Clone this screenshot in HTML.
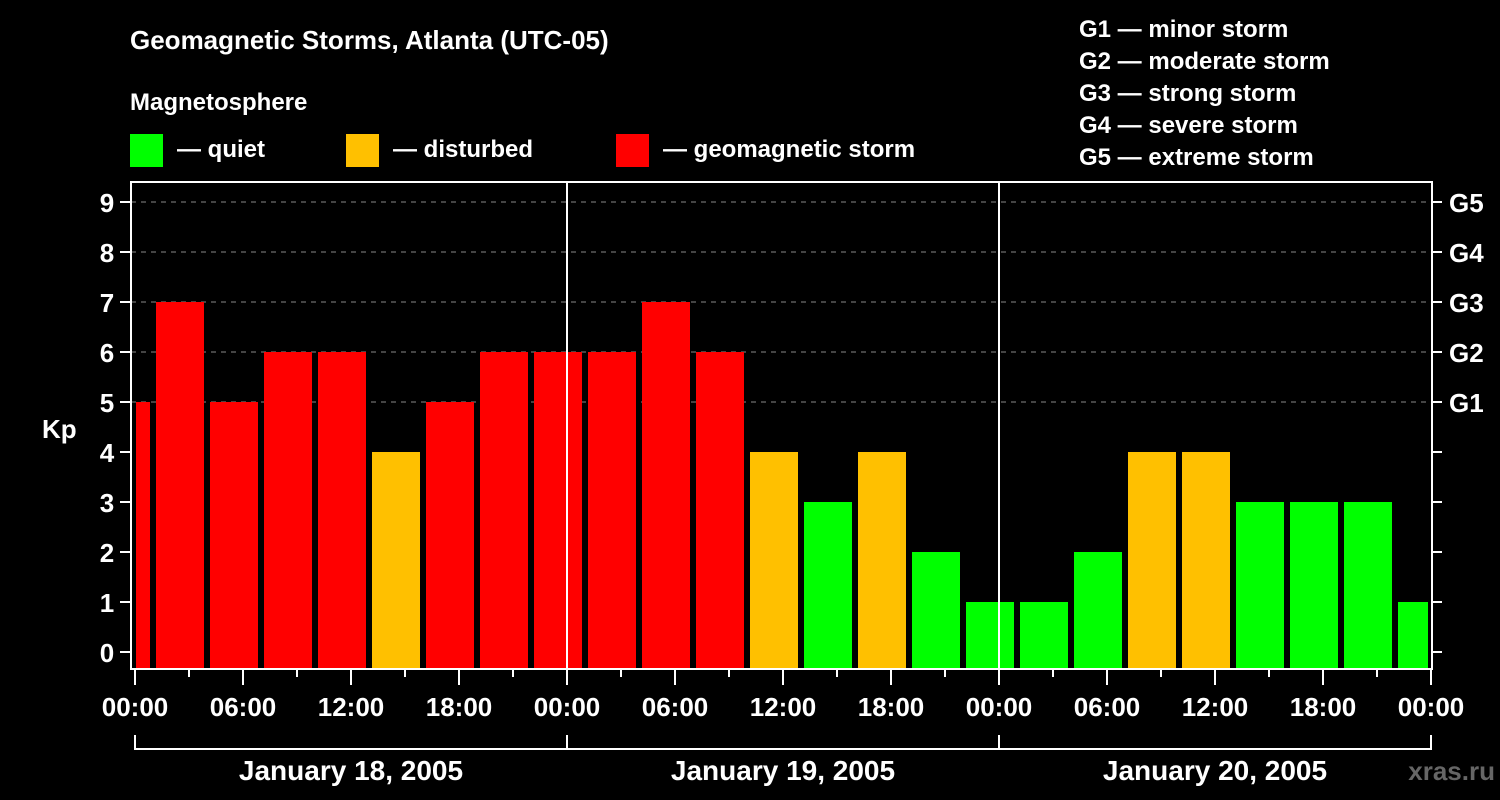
<!DOCTYPE html>
<html><head><meta charset="utf-8"><style>
html,body{margin:0;padding:0;background:#000;}
svg{display:block;font-family:"Liberation Sans",Arial,sans-serif;font-weight:bold;}
</style></head><body>
<svg id="chart" width="1500" height="800" viewBox="0 0 1500 800" xmlns="http://www.w3.org/2000/svg">
<rect x="0" y="0" width="1500" height="800" fill="#000"/>
<text x="130" y="49" fill="#fff" font-size="26">Geomagnetic Storms, Atlanta (UTC-05)</text>
<text x="130" y="110" fill="#fff" font-size="24">Magnetosphere</text>
<g><rect x="130" y="134" width="33" height="33" fill="#00ff00"/><text x="177" y="157" fill="#fff" font-size="24">— quiet</text></g>
<g><rect x="346" y="134" width="33" height="33" fill="#ffc000"/><text x="393" y="157" fill="#fff" font-size="24">— disturbed</text></g>
<g><rect x="616" y="134" width="33" height="33" fill="#ff0000"/><text x="663" y="157" fill="#fff" font-size="24">— geomagnetic storm</text></g>
<g fill="#fff" font-size="24">
<text x="1079" y="37">G1 — minor storm</text>
<text x="1079" y="69">G2 — moderate storm</text>
<text x="1079" y="101">G3 — strong storm</text>
<text x="1079" y="133">G4 — severe storm</text>
<text x="1079" y="165">G5 — extreme storm</text>
</g>
<text x="42" y="438" fill="#fff" font-size="26">Kp</text>
<text x="1495" y="780" fill="#666" font-size="26" text-anchor="end">xras.ru</text>
<g id="grid"></g><g id="bars"></g><g id="axes"></g>
</svg>
<script>
const kpValues=[5,7,5,6,6,4,5,6,6,6,7,6,4,3,4,2,1,1,2,4,4,3,3,3,1];
const slotStartHour=-2;
const slotHours=3;
const timeLabels=["00:00","06:00","12:00","18:00","00:00","06:00","12:00","18:00","00:00","06:00","12:00","18:00","00:00"];
const dayLabels=["January 18, 2005","January 19, 2005","January 20, 2005"];
const yTicks=[0,1,2,3,4,5,6,7,8,9];
const gLabels=["G1","G2","G3","G4","G5"];
const gLevels=[5,6,7,8,9];

const NS="http://www.w3.org/2000/svg";
const PL=131,PR=1432,PT=182,PB=669;
const X0=135,PXH=18;
function x(h){return X0+h*PXH;}
function y(v){return 652-v*50;}
function mk(tag,attrs,parent,text){const e=document.createElementNS(NS,tag);for(const k in attrs)e.setAttribute(k,attrs[k]);if(text!==undefined)e.textContent=text;parent.appendChild(e);return e;}
const grid=document.getElementById('grid'),bars=document.getElementById('bars'),axes=document.getElementById('axes');
gLevels.forEach(v=>{
  const l=mk('line',{x1:PL,x2:PR,y1:y(v),y2:y(v),stroke:'#888','stroke-width':1,'stroke-dasharray':'5,5'},grid);
  
  
});
function color(v){return v>=5?'#ff0000':(v>=4?'#ffc000':'#00ff00');}
kpValues.forEach((v,i)=>{
  const h0=slotStartHour+i*slotHours;
  let x1=x(h0)+3,x2=x(h0+slotHours)-3;
  x1=Math.max(x1,PL+5);x2=Math.min(x2,PR-4);
  const r=mk('rect',{x:x1,y:y(v),width:x2-x1,height:PB-y(v),fill:color(v)},bars);
  
  
});
// day separators
[24,48].forEach(h=>{
  const l=mk('line',{x1:x(h),x2:x(h),y1:PT,y2:PB,stroke:'#fff','stroke-width':2},axes);
  
  
});
const frame=mk('rect',{x:PL,y:PT,width:PR-PL,height:PB-PT,fill:'none',stroke:'#fff','stroke-width':2},axes);


yTicks.forEach(v=>{
  mk('line',{x1:120,x2:PL,y1:y(v),y2:y(v),stroke:'#fff','stroke-width':2},axes);
  mk('line',{x1:PR,x2:PR+10,y1:y(v),y2:y(v),stroke:'#fff','stroke-width':2},axes);
  const t=mk('text',{x:107,y:y(v)+10,fill:'#fff','font-size':26,'text-anchor':'middle'},axes,String(v));
  
  
});
gLevels.forEach((v,i)=>{
  const t=mk('text',{x:1449,y:y(v)+10,fill:'#fff','font-size':26},axes,gLabels[i]);
  
  
});
for(let h=0;h<=72;h+=3){
  const major=h%6===0;
  mk('line',{x1:x(h),x2:x(h),y1:PB,y2:major?685:677,stroke:'#fff','stroke-width':2},axes);
}
timeLabels.forEach((s,i)=>{
  const t=mk('text',{x:x(i*6),y:716,fill:'#fff','font-size':26,'text-anchor':'middle'},axes,s);
  
  
});
mk('path',{d:`M${x(0)} 735 V749 H${x(72)} V735 M${x(24)} 735 V749 M${x(48)} 735 V749`,fill:'none',stroke:'#fff','stroke-width':2},axes);
dayLabels.forEach((s,i)=>{
  const t=mk('text',{x:x(i*24+12),y:780,fill:'#fff','font-size':28,'text-anchor':'middle'},axes,s);
  
  
});
</script>
</body></html>
